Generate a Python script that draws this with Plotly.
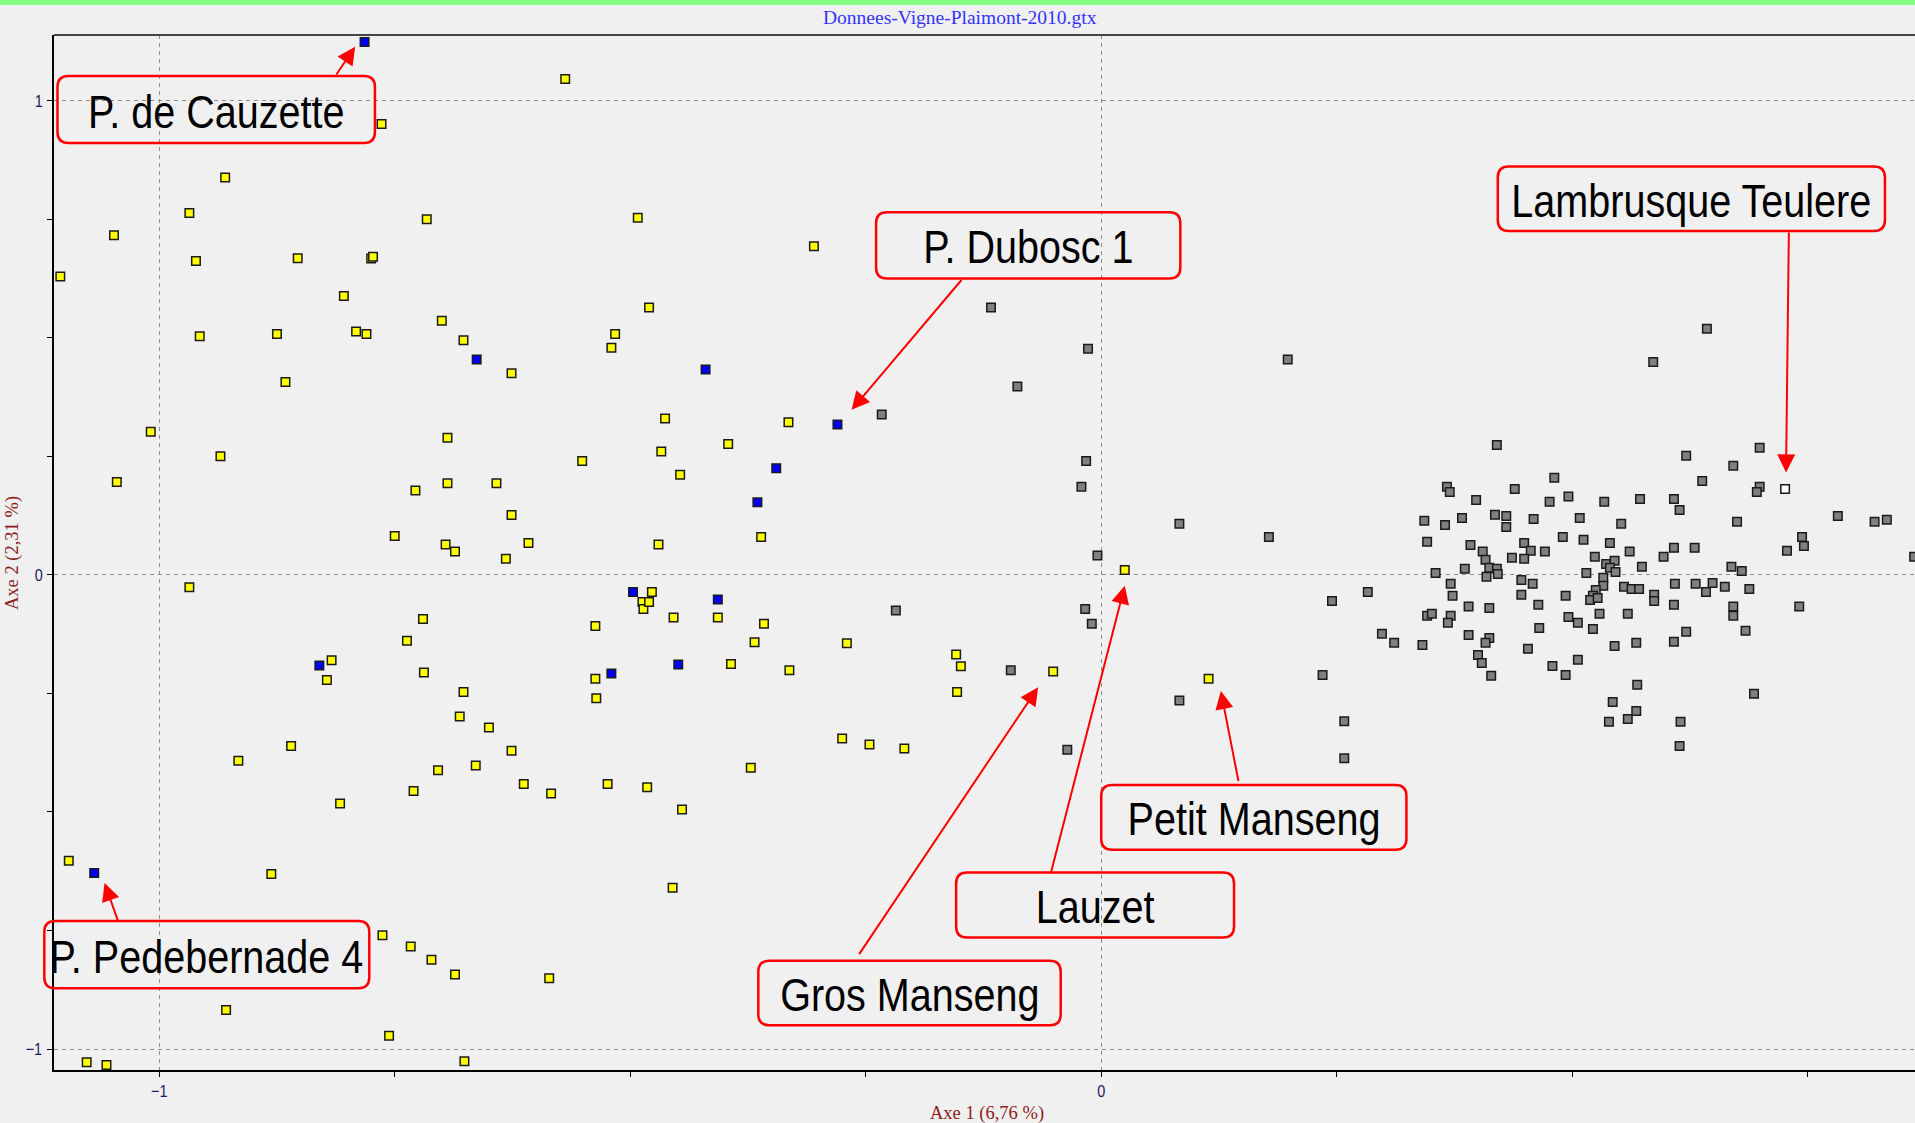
import plotly.graph_objects as go

# ---------------- data: factorial map (Axe 1, Axe 2) ----------------
yellow_pts = [
    (-1.105, 0.629), (-1.048, 0.716), (-1.045, 0.196), (-1.009, 0.302), (-0.968, 0.763),
    (-0.968, -0.026), (-0.961, 0.662), (-0.957, 0.503), (-0.930, 0.838), (-0.935, 0.250),
    (-0.916, -0.392), (-0.875, 0.508), (-0.866, 0.407), (-0.853, 0.668), (-0.860, -0.361),
    (-0.881, -0.631), (-1.096, -0.603), (-1.077, -1.028), (-1.056, -1.034), (-0.929, -0.918),
    (-0.822, -0.222), (-0.817, -0.180), (-0.808, -0.482), (-0.804, 0.588), (-0.791, 0.513),
    (-0.780, 0.508), (-0.775, 0.667), (-0.773, 0.671), (-0.764, 0.951), (-0.763, -0.760),
    (-0.756, -0.972), (-0.733, -0.784), (-0.711, -0.812), (-0.686, -0.843), (-0.676, -1.026),
    (-0.750, 0.082), (-0.737, -0.139), (-0.730, -0.456), (-0.728, 0.178), (-0.720, -0.093),
    (-0.719, -0.206), (-0.716, 0.750), (-0.704, -0.412), (-0.700, 0.536), (-0.694, 0.289),
    (-0.696, 0.064), (-0.694, 0.193), (-0.686, 0.049), (-0.681, -0.299), (-0.677, 0.495),
    (-0.677, -0.247), (-0.664, -0.402), (-0.650, -0.322), (-0.642, 0.193), (-0.632, 0.034),
    (-0.626, 0.425), (-0.626, 0.126), (-0.626, -0.371), (-0.613, -0.441), (-0.608, 0.067),
    (-0.586, -0.851), (-0.584, -0.461), (-0.569, 1.046), (-0.551, 0.240), (-0.537, -0.108),
    (-0.537, -0.219), (-0.536, -0.260), (-0.524, -0.441), (-0.520, 0.479), (-0.516, 0.508),
    (-0.492, 0.753), (-0.487, -0.057), (-0.486, -0.072), (-0.482, -0.448), (-0.480, 0.564),
    (-0.477, -0.036), (-0.480, -0.057), (-0.470, 0.064), (-0.467, 0.260), (-0.463, 0.330),
    (-0.455, -0.660), (-0.454, -0.090), (-0.447, 0.211), (-0.445, -0.495), (-0.407, -0.090),
    (-0.396, 0.276), (-0.393, -0.188), (-0.372, -0.407), (-0.368, -0.142), (-0.361, 0.080),
    (-0.358, -0.103), (-0.332, 0.322), (-0.331, -0.201), (-0.305, 0.693), (-0.275, -0.345),
    (-0.270, -0.144), (-0.246, -0.358), (-0.209, -0.366), (-0.154, -0.168), (-0.149, -0.193),
    (-0.153, -0.247), (-0.051, -0.204), (0.025, 0.010), (0.114, -0.219),
]

blue_pts = [
    (-0.782, 1.124), (-0.663, 0.454), (-0.420, 0.433), (-0.280, 0.317), (-0.345, 0.225),
    (-0.365, 0.153), (-0.497, -0.036), (-0.407, -0.052), (-0.520, -0.208), (-0.449, -0.189),
    (-0.830, -0.191), (-1.069, -0.629),
]

gray_pts = [
    (-0.117, 0.564), (-0.089, 0.397), (-0.233, 0.338), (-0.014, 0.477), (-0.016, 0.240),
    (-0.021, 0.186), (-0.004, 0.041), (-0.218, -0.075), (-0.017, -0.072), (-0.010, -0.103),
    (-0.096, -0.201), (-0.036, -0.369), (0.083, 0.108), (0.083, -0.265), (0.178, 0.080),
    (0.198, 0.454), (0.245, -0.055), (0.235, -0.211), (0.258, -0.309), (0.258, -0.387),
    (0.283, -0.036),
    (0.586, 0.449), (0.420, 0.274), (0.481, 0.205), (0.367, 0.186), (0.370, 0.175),
    (0.439, 0.181), (0.398, 0.158), (0.476, 0.154), (0.496, 0.165), (0.534, 0.154),
    (0.572, 0.160), (0.343, 0.114), (0.365, 0.105), (0.383, 0.120), (0.418, 0.127),
    (0.430, 0.124), (0.430, 0.101), (0.459, 0.118), (0.508, 0.120), (0.552, 0.108),
    (0.346, 0.070), (0.392, 0.063), (0.405, 0.049), (0.408, 0.032), (0.449, 0.067),
    (0.456, 0.051), (0.471, 0.049), (0.436, 0.036), (0.449, 0.034), (0.490, 0.080),
    (0.512, 0.074), (0.540, 0.067), (0.561, 0.049), (0.524, 0.038), (0.536, 0.023),
    (0.545, 0.030), (0.540, 0.015), (0.546, 0.006), (0.574, 0.017), (0.355, 0.004),
    (0.386, 0.013), (0.412, 0.015), (0.420, 0.013), (0.421, 0.002), (0.409, -0.004),
    (0.446, -0.011), (0.458, -0.019), (0.515, 0.004), (0.533, -0.006), (0.533, -0.023),
    (0.525, -0.032), (0.522, -0.044), (0.519, -0.053), (0.527, -0.049), (0.555, -0.025),
    (0.563, -0.030), (0.571, -0.030), (0.371, -0.019), (0.373, -0.044), (0.446, -0.042),
    (0.493, -0.044), (0.464, -0.063), (0.390, -0.067), (0.412, -0.070), (0.346, -0.086),
    (0.351, -0.082), (0.371, -0.086), (0.368, -0.101), (0.496, -0.089), (0.506, -0.101),
    (0.529, -0.082), (0.559, -0.082), (0.522, -0.114), (0.465, -0.112), (0.298, -0.124),
    (0.311, -0.143), (0.341, -0.148), (0.390, -0.127), (0.412, -0.133), (0.408, -0.143),
    (0.453, -0.156), (0.545, -0.150), (0.568, -0.143), (0.400, -0.169), (0.404, -0.186),
    (0.414, -0.213), (0.479, -0.192), (0.506, -0.179), (0.493, -0.211), (0.569, -0.232),
    (0.543, -0.268), (0.568, -0.287), (0.559, -0.304), (0.539, -0.310),
    (0.643, 0.519), (0.699, 0.268), (0.621, 0.251), (0.671, 0.230), (0.638, 0.198),
    (0.699, 0.186), (0.696, 0.175), (0.608, 0.160), (0.614, 0.137), (0.675, 0.112),
    (0.782, 0.124), (0.821, 0.112), (0.834, 0.116), (0.744, 0.080),
    (0.746, 0.061), (0.728, 0.051), (0.608, 0.057), (0.630, 0.057), (0.597, 0.038),
    (0.669, 0.017), (0.680, 0.008), (0.863, 0.038), (0.587, -0.042), (0.587, -0.055),
    (0.609, -0.019), (0.631, -0.019), (0.642, -0.036), (0.649, -0.017), (0.662, -0.025),
    (0.688, -0.030), (0.608, -0.063), (0.671, -0.067), (0.671, -0.086), (0.741, -0.067),
    (0.621, -0.120), (0.608, -0.141), (0.684, -0.118), (0.693, -0.251), (0.615, -0.310),
    (0.614, -0.361),
]

white_pts = [(0.726, 0.181)]

# labelled individuals
label_names = ["P. de Cauzette", "P. Dubosc 1", "Lambrusque Teulere", "P. Pedebernade 4",
               "Gros Manseng", "Lauzet", "Petit Manseng"]

chart_title = "Donnees-Vigne-Plaimont-2010.gtx"
x_title = "Axe 1 (6,76 %)"
y_title = "Axe 2 (2,31 %)"

# ---------------- layout helpers (positions, not data) ----------------
W, H = 1915, 1123
M_L, M_R, M_T, M_B = 54, 0, 35, 53
PLOT_W = W - M_L - M_R
PLOT_H = H - M_T - M_B
X_RANGE = [-1.1117, 0.8639]
Y_RANGE = [-1.0443, 1.1386]

# box (left, right, top, bottom) and arrow (tail x, tail y, tip x, tip y) in axis units
label_boxes = [
    (-1.108, -0.771, 1.052, 0.911),
    (-0.239, 0.084, 0.765, 0.625),
    (0.421, 0.832, 0.861, 0.725),
    (-1.122, -0.777, -0.730, -0.872),
    (-0.364, -0.043, -0.814, -0.950),
    (-0.154, 0.141, -0.628, -0.765),
    (0.000, 0.324, -0.443, -0.580),
]
label_arrows = [
    (-0.813, 1.052, -0.792, 1.114),
    (-0.147, 0.625, -0.265, 0.348),
    (0.730, 0.725, 0.727, 0.216),
    (-1.043, -0.734, -1.058, -0.650),
    (-0.258, -0.803, -0.067, -0.237),
    (-0.054, -0.633, 0.025, -0.023),
    (0.146, -0.438, 0.127, -0.245),
]


def px(x):
    return (x - X_RANGE[0]) / (X_RANGE[1] - X_RANGE[0])


def py(y):
    return (y - Y_RANGE[0]) / (Y_RANGE[1] - Y_RANGE[0])


def rounded_box_path(x0, x1, yt, yb, r=11):
    a, b = px(x0), px(x1)
    t, u = py(yt), py(yb)
    rx, ry = r / PLOT_W, r / PLOT_H
    return (f"M {a+rx},{t} L {b-rx},{t} Q {b},{t} {b},{t-ry} "
            f"L {b},{u+ry} Q {b},{u} {b-rx},{u} L {a+rx},{u} Q {a},{u} {a},{u+ry} "
            f"L {a},{t-ry} Q {a},{t} {a+rx},{t} Z")


BG = "#F0F0F0"
SANS = "Liberation Sans, Arial, sans-serif"
SERIF = "Liberation Serif, Times New Roman, serif"

fig = go.Figure()


def add_series(pts, fill):
    fig.add_trace(go.Scatter(
        x=[p[0] for p in pts], y=[p[1] for p in pts], mode="markers",
        marker=dict(symbol="square", size=8.5, color=fill,
                    line=dict(color="#1a1a1a", width=1.5)),
        hoverinfo="x+y", showlegend=False, cliponaxis=True))


add_series(gray_pts, "#808080")
add_series(yellow_pts, "#FFFF00")
add_series(blue_pts, "#0000FF")
add_series(white_pts, "#FFFFFF")

shapes = []
annotations = []

# green band on top of the window
shapes.append(dict(type="rect", xref="paper", yref="paper",
                   x0=-M_L / PLOT_W, x1=1.0, y0=1 + (M_T - 5) / PLOT_H, y1=1 + M_T / PLOT_H,
                   fillcolor="#80FF80", line=dict(width=0), layer="above"))
# top frame line
shapes.append(dict(type="line", xref="paper", yref="paper", x0=0, x1=1, y0=1, y1=1,
                   line=dict(color="#454545", width=2)))

for name, (x0, x1, yt, yb), (tx, ty, hx, hy) in zip(label_names, label_boxes, label_arrows):
    shapes.append(dict(type="path", xref="paper", yref="paper",
                       path=rounded_box_path(x0, x1, yt, yb),
                       line=dict(color="#FF0000", width=2.5), layer="above"))
    annotations.append(dict(x=px((x0 + x1) / 2), y=py((yt + yb) / 2) - 0.002,
                            xref="paper", yref="paper", text=name, showarrow=False,
                            xanchor="center", yanchor="middle",
                            font=dict(family=SANS, size=46, color="black")))
    annotations.append(dict(x=hx, y=hy, xref="x", yref="y",
                            ax=tx, ay=ty, axref="x", ayref="y",
                            text="", showarrow=True, arrowhead=2, arrowsize=1.8,
                            arrowwidth=2, arrowcolor="#FF0000", standoff=0))

annotations.append(dict(x=(960 - M_L) / PLOT_W, y=1 + (M_T - 17) / PLOT_H,
                        xref="paper", yref="paper", text=chart_title, showarrow=False,
                        xanchor="center", yanchor="middle",
                        font=dict(family=SERIF, size=19.5, color="#3333FF")))
annotations.append(dict(x=0.5013, y=-(1113 - (H - M_B)) / PLOT_H,
                        xref="paper", yref="paper", text=x_title, showarrow=False,
                        xanchor="center", yanchor="middle",
                        font=dict(family=SERIF, size=18.5, color="#8C1C1C")))
annotations.append(dict(x=-(M_L - 12) / PLOT_W, y=0.4995,
                        xref="paper", yref="paper", text=y_title, showarrow=False,
                        textangle=-90, xanchor="center", yanchor="middle",
                        font=dict(family=SERIF, size=18.5, color="#8C1C1C")))

axis_common = dict(
    showline=True, linecolor="black", linewidth=2,
    showgrid=True, gridcolor="#8C8C8C", gridwidth=1, griddash="4px,4px",
    zeroline=False, ticks="outside", ticklen=5, tickwidth=1, tickcolor="black",
    tick0=0, dtick=1,
    minor=dict(dtick=0.25, tick0=0, ticks="outside", ticklen=5, tickcolor="black",
               showgrid=False),
    tickfont=dict(family=SANS, size=17, color="#1C1C5C"),
    fixedrange=True,
)

fig.update_layout(
    width=W, height=H,
    margin=dict(l=M_L, r=M_R, t=M_T, b=M_B, autoexpand=False),
    paper_bgcolor=BG, plot_bgcolor=BG,
    xaxis=dict(range=X_RANGE, **axis_common),
    yaxis=dict(range=Y_RANGE, **axis_common),
    shapes=shapes, annotations=annotations,
    showlegend=False,
)

# The reference labels use a condensed sans face (Arial Narrow look), which is not
# installed: squeeze the rendered label text horizontally around its own centre.
post_js = """
document.body.style.margin = '0';
document.body.style.overflow = 'hidden';
(function () {
  var gd = document.getElementsByClassName('plotly-graph-div')[0];
  function squeeze(t, k) {
    var b = t.getBBox();
    var cx = b.x + b.width / 2;
    var old = t.getAttribute('transform') || '';
    t.setAttribute('transform', old + ' translate(' + cx + ',0) scale(' + k + ',1) translate(' + (-cx) + ',0)');
  }
  var texts = gd.querySelectorAll('text.annotation-text');
  for (var i = 0; i < texts.length; i++) {
    if (parseFloat(texts[i].style.fontSize) > 30) squeeze(texts[i], 0.86);
  }
  var ticks = gd.querySelectorAll('.xtick text, .ytick text');
  for (var j = 0; j < ticks.length; j++) squeeze(ticks[j], 0.85);
})();
"""

fig.write_html("out.html", config={"displayModeBar": False}, post_script=post_js)
